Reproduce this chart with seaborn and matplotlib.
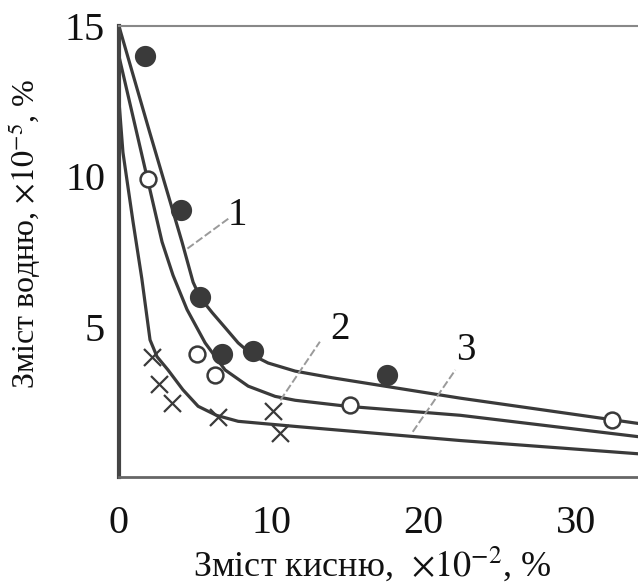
import matplotlib
matplotlib.use("Agg")
import matplotlib.pyplot as plt
import seaborn as sns

# curve 1 (solid markers)
c1_x = [0.0, 2.0, 4.14, 4.87, 5.33, 6.12, 6.97, 7.83, 8.75, 9.80, 11.58, 14.0, 22.43, 34.1]
c1_y = [15.0, 11.5, 7.82, 6.48, 5.97, 5.47, 4.97, 4.46, 4.06, 3.79, 3.52, 3.30, 2.62, 1.78]
p1_x = [1.7, 4.1, 5.3, 6.8, 8.8, 17.6]
p1_y = [14.0, 8.9, 6.0, 4.1, 4.2, 3.4]

# curve 2 (open markers)
c2_x = [0.0, 1.91, 2.83, 3.55, 4.47, 5.66, 6.97, 8.49, 10.26, 11.58, 15.0, 22.43, 34.1]
c2_y = [14.0, 9.83, 7.82, 6.71, 5.57, 4.46, 3.56, 3.02, 2.68, 2.55, 2.35, 2.05, 1.34]
p2_x = [1.9, 5.1, 6.3, 15.2, 32.4]
p2_y = [9.9, 4.1, 3.4, 2.4, 1.9]

# curve 3 (crosses)
c3_x = [0.0, 0.26, 0.92, 1.5, 2.04, 2.5, 3.22, 4.2, 5.2, 6.4, 7.83, 11.58, 22.43, 34.1]
c3_y = [12.5, 10.8, 8.5, 6.6, 4.56, 4.0, 3.56, 2.9, 2.35, 2.05, 1.85, 1.68, 1.21, 0.77]
p3_x = [2.2, 2.6, 3.5, 6.5, 10.1, 10.6]
p3_y = [4.0, 3.1, 2.45, 2.0, 2.2, 1.45]

x_ticks = [0, 10, 20, 30]
y_ticks = [5, 10, 15]

# curve numbers and their leader lines
labels = ["1", "2", "3"]
label_xy = [(7.8, 8.7), (14.5, 4.9), (22.8, 4.2)]
leader_a = [(4.5, 7.6), (10.6, 2.55), (19.3, 1.5)]
leader_b = [(7.2, 8.6), (13.2, 4.5), (22.1, 3.56)]

sns.set_theme(style="white")
plt.rcParams["font.family"] = ["Liberation Serif", "DejaVu Serif"]
plt.rcParams["mathtext.fontset"] = "stix"

fig = plt.figure(figsize=(6.38, 5.83), dpi=100)
ax = fig.add_axes([0.1865, 0.182, 0.8135, 0.773])

line_col = "#3a3a3a"
for cx, cy in [(c1_x, c1_y), (c2_x, c2_y), (c3_x, c3_y)]:
    sns.lineplot(x=cx, y=cy, ax=ax, color=line_col, linewidth=2.3,
                 sort=False, estimator=None)

for a, b in zip(leader_a, leader_b):
    ax.plot([a[0], b[0]], [a[1], b[1]], color="#9a9a9a", linewidth=1.4,
            linestyle=(0, (4, 1.5)))

sns.scatterplot(x=p1_x, y=p1_y, ax=ax, s=200, color="#3a3a3a",
                edgecolor="#3a3a3a", zorder=5)
sns.scatterplot(x=p2_x, y=p2_y, ax=ax, s=130, color="white",
                edgecolor="#3a3a3a", linewidth=1.8, zorder=5)
sns.scatterplot(x=p3_x, y=p3_y, ax=ax, s=150, marker="x", color="#3a3a3a",
                linewidth=1.6, zorder=5)

for t, (tx, ty) in zip(labels, label_xy):
    ax.text(tx, ty, t, fontsize=28, ha="center", va="center", color="#111111")

ax.set_xlim(0, 34.1)
ax.set_ylim(0, 15)
ax.set_xticks(x_ticks)
ax.set_yticks(y_ticks)
ax.tick_params(direction="in", length=15, width=1.5, colors="#555555",
               labelcolor="#111111", labelsize=29)
ax.tick_params(axis="x", pad=20)
ax.tick_params(axis="y", pad=10)

for side in ["left", "bottom", "top"]:
    ax.spines[side].set_visible(True)
ax.spines["right"].set_visible(False)
ax.spines["left"].set_linewidth(3)
ax.spines["left"].set_color("#444444")
ax.spines["bottom"].set_linewidth(2)
ax.spines["bottom"].set_color("#666666")
ax.spines["top"].set_linewidth(1.5)
ax.spines["top"].set_color("#888888")

ax.set_xlabel(r"Зміст кисню,  $\times10^{-2}$, %", fontsize=26, color="#111111")
ax.set_ylabel(r"Зміст водню, $\times10^{-5}$, %", fontsize=23, color="#111111")
ax.xaxis.set_label_coords(0.487, -0.150)
ax.yaxis.set_label_coords(-0.146, 0.54)

fig.savefig("out.png", dpi=100)
